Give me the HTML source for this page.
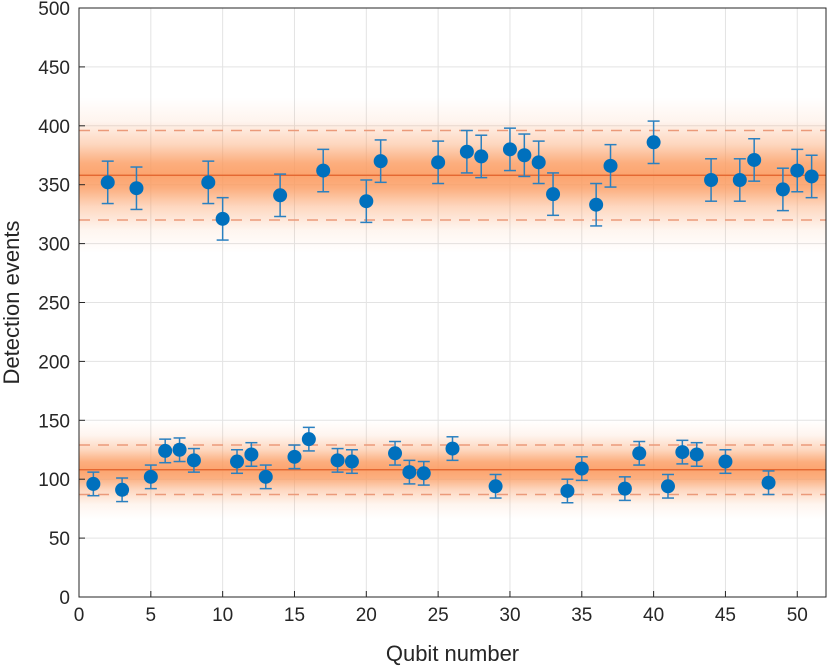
<!DOCTYPE html>
<html><head><meta charset="utf-8"><style>
body{margin:0;background:#fff}
svg{display:block;font-family:"Liberation Sans",sans-serif}
</style></head><body>
<svg id="chart" width="830" height="668" viewBox="0 0 830 668">
<defs>
<linearGradient id="band" x1="0" y1="0" x2="0" y2="1">
<stop offset="0" stop-color="#fb9a5e" stop-opacity="0"/>
<stop offset="0.15" stop-color="#fb9a5e" stop-opacity="0.1"/>
<stop offset="0.3" stop-color="#fb9a5e" stop-opacity="0.4"/>
<stop offset="0.42" stop-color="#fb9a5e" stop-opacity="0.8"/>
<stop offset="0.5" stop-color="#fb9a5e" stop-opacity="0.9"/>
<stop offset="0.58" stop-color="#fb9a5e" stop-opacity="0.8"/>
<stop offset="0.7" stop-color="#fb9a5e" stop-opacity="0.4"/>
<stop offset="0.85" stop-color="#fb9a5e" stop-opacity="0.1"/>
<stop offset="1" stop-color="#fb9a5e" stop-opacity="0"/>
</linearGradient>
</defs>
<g id="grid"></g><g id="bands"></g><g id="marks"></g><g id="axes"></g>
</svg>
<script>
const upperQubits=[2,4,9,10,14,17,20,21,25,27,28,30,31,32,33,36,37,40,44,46,47,49,50,51];
const upperValues=[352,347,352,321,341,362,336,370,369,378,374,380,375,369,342,333,366,386,354,354,371,346,362,357];
const lowerQubits=[1,3,5,6,7,8,11,12,13,15,16,18,19,22,23,24,26,29,34,35,38,39,41,42,43,45,48];
const lowerValues=[96,91,102,124,125,116,115,121,102,119,134,116,115,122,106,105,126,94,90,109,92,122,94,123,121,115,97];
const upperErr=18, lowerErr=10;
const bandMeans=[358,108], bandLow=[320,87], bandHigh=[396,129], bandSpan=[66,42];
const xTicks=[0,5,10,15,20,25,30,35,40,45,50];
const yTicks=[0,50,100,150,200,250,300,350,400,450,500];
const NS='http://www.w3.org/2000/svg';
const L=79,R=826,T=8,B=597;
const xs=v=>L+v/52*(R-L), ys=v=>B-v/500*(B-T);
function mk(tag,parent,attrs){const e=document.createElementNS(NS,tag);for(const k in attrs)e.setAttribute(k,attrs[k]);document.getElementById(parent).appendChild(e);return e;}
xTicks.forEach(t=>{const e=mk('line','grid',{x1:xs(t),x2:xs(t),y1:T,y2:B,stroke:'#e3e3e3','stroke-width':1});

});
yTicks.forEach(t=>{const e=mk('line','grid',{x1:L,x2:R,y1:ys(t),y2:ys(t),stroke:'#e3e3e3','stroke-width':1});

});
bandMeans.forEach((m,i)=>{
const s=bandSpan[i];
const b=mk('rect','bands',{x:L,y:ys(m+s),width:R-L,height:ys(m-s)-ys(m+s),fill:'url(#band)'});


const ml=mk('line','bands',{x1:L,x2:R,y1:ys(m),y2:ys(m),stroke:'#e0602a','stroke-width':1.2});


[bandLow[i],bandHigh[i]].forEach(v=>{const d=mk('line','bands',{x1:L,x2:R,y1:ys(v),y2:ys(v),stroke:'#eb9a7a','stroke-width':1.5,'stroke-dasharray':'11 8'});

});
});
function series(qs,vs,err,name){qs.forEach((q,i)=>{
const x=xs(q),v=vs[i];
const g=mk('g','marks',{stroke:'#2a80c0','stroke-width':1.5});


const add=(a)=>{const e=document.createElementNS(NS,'line');for(const k in a)e.setAttribute(k,a[k]);g.appendChild(e);};
add({x1:x,x2:x,y1:ys(v-err),y2:ys(v+err)});
add({x1:x-6,x2:x+6,y1:ys(v-err),y2:ys(v-err)});
add({x1:x-6,x2:x+6,y1:ys(v+err),y2:ys(v+err)});
const c=document.createElementNS(NS,'circle');c.setAttribute('cx',x);c.setAttribute('cy',ys(v));c.setAttribute('r',7);c.setAttribute('fill','#0070bd');c.setAttribute('stroke','none');g.appendChild(c);
});}
series(upperQubits,upperValues,upperErr,'upper');
series(lowerQubits,lowerValues,lowerErr,'lower');
const box=mk('rect','axes',{x:L,y:T,width:R-L,height:B-T,fill:'none',stroke:'#262626','stroke-width':1});


xTicks.forEach(t=>{mk('line','axes',{x1:xs(t),x2:xs(t),y1:B,y2:B-6,stroke:'#262626'});
const e=mk('text','axes',{x:xs(t),y:B+24,'text-anchor':'middle','font-size':19,fill:'#262626'});e.textContent=t;

});
yTicks.forEach(t=>{mk('line','axes',{x1:L,x2:L+6,y1:ys(t),y2:ys(t),stroke:'#262626'});
const e=mk('text','axes',{x:L-9,y:ys(t)+7,'text-anchor':'end','font-size':19,fill:'#262626'});e.textContent=t;

});
const xl=mk('text','axes',{x:(L+R)/2,y:661,'text-anchor':'middle','font-size':22,fill:'#262626'});xl.textContent='Qubit number';


const yl=mk('text','axes',{x:0,y:0,'text-anchor':'middle','font-size':22,fill:'#262626',transform:'translate(19,'+((T+B)/2)+') rotate(-90)'});yl.textContent='Detection events';


</script>
</body></html>
